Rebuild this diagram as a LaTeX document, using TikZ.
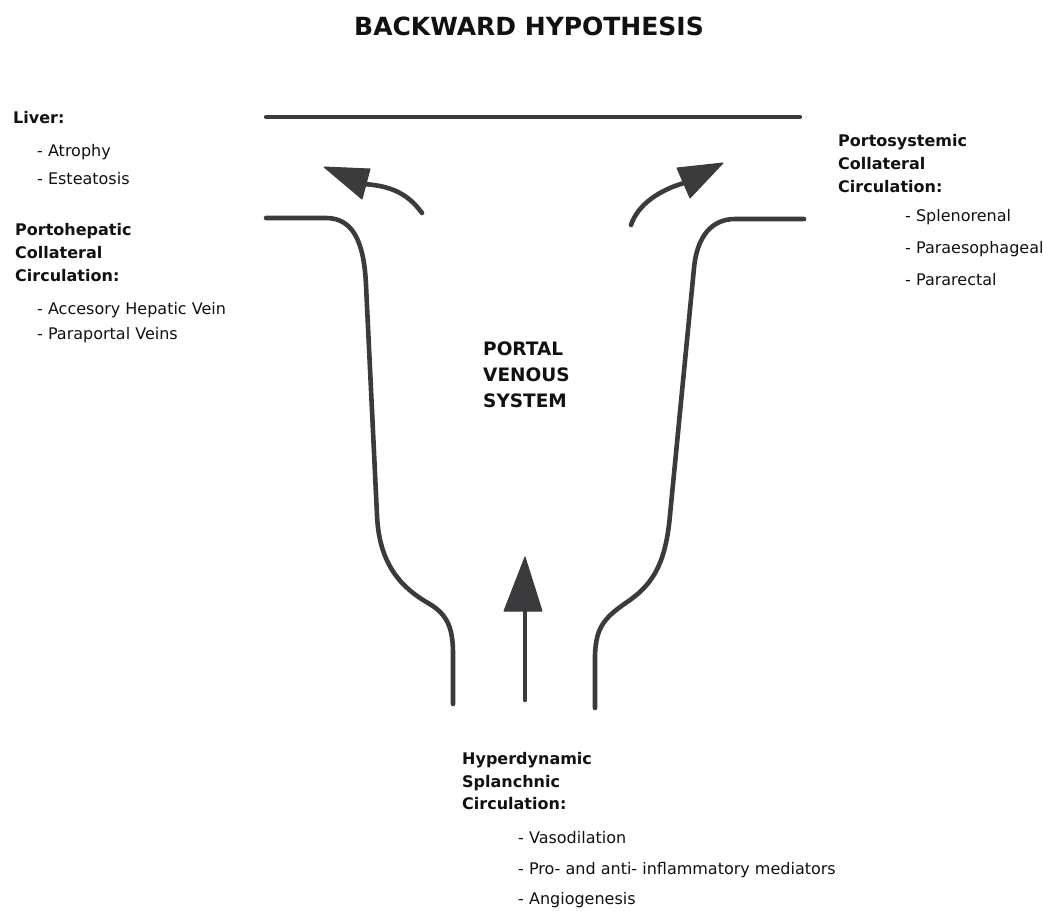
\documentclass[tikz,border=0pt]{standalone}
\usepackage{fontspec}
\setmainfont{DejaVu Sans}
\begin{document}
\begin{tikzpicture}[x=1pt,y=-1pt,
  pipe/.style={line width=4.6pt,draw=pipegray,line cap=round,line join=round},
  head/.style={fill=pipegray,draw=pipegray,line width=1pt,line join=round},
  hd/.style={anchor=base west,inner sep=0pt,font=\fontsize{16}{19}\selectfont\bfseries,text=txt},
  item/.style={anchor=base west,inner sep=0pt,font=\fontsize{16}{19}\selectfont,text=txt},
  big/.style={anchor=base west,inner sep=0pt,font=\fontsize{18.5}{22}\selectfont\bfseries,text=txt}]
\definecolor{pipegray}{HTML}{3B3B3D}
\definecolor{txt}{HTML}{111111}
\useasboundingbox[fill=white] (0,0) rectangle (1043,910);

% title
\node[anchor=base,inner sep=0pt,font=\fontsize{25}{30}\selectfont\bfseries,text=txt] (title) at (529,35) {BACKWARD HYPOTHESIS};

% top line
\coordinate (tl) at (266,117);
\coordinate (tr) at (800,117);
\draw[pipe,line width=4.2pt] (tl) -- (tr);

% left pipe
\draw[pipe] (266,218) -- (326,218) .. controls (352,218) and (364,240) .. (366,285)
  -- (377,515) .. controls (379,565) and (402,588) .. (428,603)
  .. controls (449,615) and (453,630) .. (453,655) -- (453,704);

% right pipe
\draw[pipe] (804,219) -- (735,219) .. controls (712,219) and (697,236) .. (694,268)
  -- (670,515) .. controls (666,560) and (655,582) .. (630,600)
  .. controls (605,617) and (596,626) .. (595,655) -- (595,708);

% left curved arrow
\coordinate (la) at (422,213);
\coordinate (lb) at (364,184);
\draw[pipe] (la) .. controls (408,194) and (392,186) .. (lb);
\fill[head] (324,167) -- (370,169) -- (362,199) -- cycle;

% right curved arrow
\coordinate (ra) at (631,225);
\coordinate (rb) at (684,183);
\draw[pipe] (ra) .. controls (638,204) and (660,190) .. (rb);
\fill[head] (723,163) -- (677,168) -- (690,198) -- cycle;

% centre arrow
\coordinate (ca) at (525,700);
\coordinate (cb) at (525,606);
\draw[pipe] (ca) -- (cb);
\fill[head] (525,557) -- (542,611) -- (504,611) -- cycle;

% left texts
\node[hd] (liver) at (13,123) {Liver:};
\node[item] (atr) at (37,156) {- Atrophy};
\node[item] (est) at (37,184) {- Esteatosis};
\node[hd] (ph1) at (15,235) {Portohepatic};
\node[hd] (ph2) at (15,258) {Collateral};
\node[hd] (ph3) at (15,281) {Circulation:};
\node[item] (ahv) at (37,314) {- Accesory Hepatic Vein};
\node[item] (ppv) at (37,339) {- Paraportal Veins};

% right texts
\node[hd] (ps1) at (838,146) {Portosystemic};
\node[hd] (ps2) at (838,169) {Collateral};
\node[hd] (ps3) at (838,192) {Circulation:};
\node[item] (spl) at (905,221) {- Splenorenal};
\node[item] (pae) at (905,253) {- Paraesophageal};
\node[item] (par) at (905,285) {- Pararectal};

% centre
\node[big] (pv1) at (483,355) {PORTAL};
\node[big] (pv2) at (483,381) {VENOUS};
\node[big] (pv3) at (483,407) {SYSTEM};

% bottom
\node[hd] (hs1) at (462,764) {Hyperdynamic};
\node[hd] (hs2) at (462,787) {Splanchnic};
\node[hd] (hs3) at (462,809) {Circulation:};
\node[item] (vas) at (518,843) {- Vasodilation};
\node[item] (pro) at (518,874) {- Pro- and anti- inflammatory mediators};
\node[item] (ang) at (518,904) {- Angiogenesis};
\end{tikzpicture}
\end{document}
